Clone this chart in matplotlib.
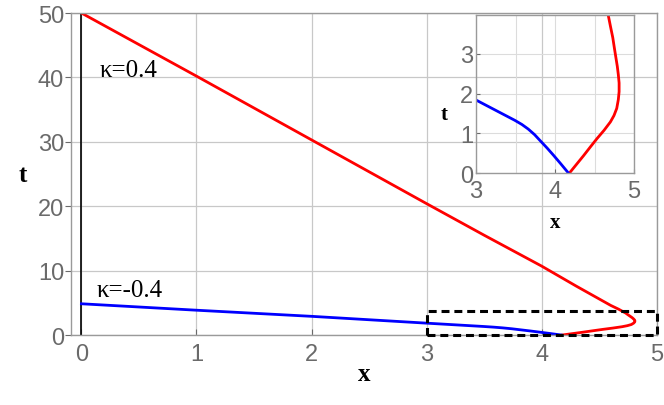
import numpy as np
import matplotlib
matplotlib.use('Agg')
from matplotlib import pyplot as plt
from matplotlib.patches import Rectangle

# kappa = 0.4 branch
red_x = [0.0, 1.0, 2.0, 3.0, 3.5, 4.0, 4.3, 4.5, 4.6, 4.67, 4.70, 4.73, 4.75, 4.77, 4.787,
         4.80, 4.81, 4.81, 4.80, 4.78, 4.745, 4.70, 4.62, 4.53, 4.45, 4.36, 4.27, 4.18]
red_t = [50.0, 40.2, 30.3, 20.4, 15.5, 10.7, 7.6, 5.6, 4.6, 4.0, 3.7, 3.41, 3.15, 2.9, 2.69,
         2.48, 2.27, 2.05, 1.85, 1.63, 1.45, 1.29, 1.08, 0.87, 0.67, 0.44, 0.22, 0.0]
# kappa = -0.4 branch
blue_x = [0.0, 1.0, 2.0, 3.0, 3.24, 3.49, 3.58, 3.66, 3.74, 3.81, 3.90, 3.98, 4.07, 4.17]
blue_t = [4.85, 3.85, 2.9, 1.84, 1.59, 1.33, 1.225, 1.11, 0.97, 0.82, 0.63, 0.45, 0.24, 0.0]

x_ticks = [0, 1, 2, 3, 4, 5]
t_ticks = [0, 10, 20, 30, 40, 50]
inset_x_ticks = [3, 4, 5]
inset_t_ticks = [0, 1, 2, 3]
zoom_box = (3.0, 0.0, 2.0, 3.8)

GRAY = '#6a6a6a'
GRID = '#c8c8c8'
SERIF = ['Liberation Serif', 'DejaVu Serif']
SANS = ['Liberation Sans', 'DejaVu Sans']

fig = plt.figure(figsize=(6.64, 4.06), dpi=100)
ax = fig.add_axes([0.107, 0.1724, 0.882, 0.7931])

ax.plot(red_x, red_t, color='#ff0000', lw=2)
ax.plot(blue_x, blue_t, color='#0000ff', lw=2)
ax.axvline(0, color='black', lw=1.2, zorder=1)
ax.add_patch(Rectangle(zoom_box[:2], zoom_box[2], zoom_box[3], fill=False,
                       ec='black', lw=2.2, ls=(0, (2.6, 1.6)), zorder=5, clip_on=False))

ax.set_xlim(-0.09, 5)
ax.set_ylim(0, 50)
ax.set_xticks(x_ticks)
ax.set_yticks(t_ticks)
ax.grid(True, color=GRID, lw=0.9)
ax.set_axisbelow(True)
for sp in ax.spines.values():
    sp.set_color('#9a9a9a')
    sp.set_linewidth(1.0)
ax.tick_params(axis='x', direction='in', length=4, colors=GRAY, labelsize=17, pad=6)
ax.tick_params(axis='y', direction='out', length=4, colors=GRAY, labelsize=17, pad=1)
for lab in ax.get_xticklabels() + ax.get_yticklabels():
    lab.set_family(SANS)
ax.set_xlabel('x', family=SERIF, fontweight='bold', fontsize=18, va='top')
ax.set_ylabel('t', family=SERIF, fontweight='bold', fontsize=18, rotation=0, va='center')
ax.yaxis.set_label_coords(-0.083, 0.5)
ax.xaxis.set_label_coords(0.5, -0.085)

ax.text(0.157, 40.2, 'κ=0.4', family=SERIF, fontsize=18, ha='left', va='baseline')
ax.text(0.13, 6.05, 'κ=-0.4', family=SERIF, fontsize=18, ha='left', va='baseline')

# inset
ins = fig.add_axes([0.717, 0.571, 0.238, 0.3896])
ins.patch.set_alpha(0.0)
ins.plot(red_x, red_t, color='#ff0000', lw=2)
ins.plot(blue_x, blue_t, color='#0000ff', lw=2)
ins.set_xlim(3, 5)
ins.set_ylim(0, 3.98)
ins.set_xticks(inset_x_ticks)
ins.set_yticks(inset_t_ticks)
ins.set_xticks([3.5, 4.5], minor=True)
ins.grid(True, which='both', color='#dcdcdc', lw=0.8)
for sp in ins.spines.values():
    sp.set_color('#9a9a9a')
    sp.set_linewidth(1.0)
ins.tick_params(which='both', direction='in', length=3, colors=GRAY, labelsize=17)
ins.tick_params(axis='x', pad=5)
ins.tick_params(axis='y', pad=2)
ins.tick_params(which='minor', length=0)
for lab in ins.get_xticklabels() + ins.get_yticklabels():
    lab.set_family(SANS)
ins.set_xlabel('x', family=SERIF, fontweight='bold', fontsize=15, va='center')
ins.set_ylabel('t', family=SERIF, fontweight='bold', fontsize=15, rotation=0, va='center')
ins.yaxis.set_label_coords(-0.2, 0.373)
ins.xaxis.set_label_coords(0.5, -0.31)

fig.savefig('out.png', dpi=100)
